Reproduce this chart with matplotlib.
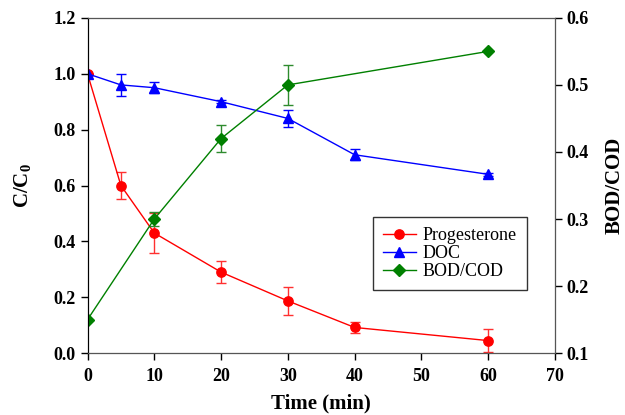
import matplotlib
matplotlib.use("Agg")
import matplotlib.pyplot as plt
from matplotlib.lines import Line2D

plt.rcParams["font.family"] = "Liberation Serif"
plt.rcParams["mathtext.fontset"] = "custom"
plt.rcParams["mathtext.bf"] = "Liberation Serif:bold"
plt.rcParams["mathtext.rm"] = "Liberation Serif"

# data
time_prog = [0, 5, 10, 20, 30, 40, 60]
prog = [1.0, 0.60, 0.43, 0.29, 0.187, 0.092, 0.045]
prog_err = [0.0, 0.05, 0.07, 0.04, 0.049, 0.02, 0.04]

time_doc = [0, 5, 10, 20, 30, 40, 60]
doc = [1.0, 0.96, 0.95, 0.90, 0.84, 0.71, 0.64]
doc_err = [0.0, 0.04, 0.02, 0.005, 0.03, 0.02, 0.006]

time_bod = [0, 10, 20, 30, 60]
bod_cod = [0.15, 0.30, 0.42, 0.50, 0.55]
bod_err = [0.0, 0.01, 0.02, 0.03, 0.0]

fig = plt.figure(figsize=(6.25, 4.15), dpi=100)
ax = fig.add_axes([0.14, 0.149, 0.748, 0.808])
ax2 = ax.twinx()

ax.errorbar(time_prog, prog, yerr=prog_err, color="#ff0000", marker="o",
            markersize=6.7, linewidth=1, capsize=3.6, elinewidth=1,
            ecolor="#ff3030")
ax.errorbar(time_doc, doc, yerr=doc_err, color="#0000ff", marker="^",
            markersize=7, linewidth=1, capsize=3.6, elinewidth=1)
ax2.errorbar(time_bod, bod_cod, yerr=bod_err, color="#008000", marker="D",
             markersize=6, linewidth=1, capsize=3.6, elinewidth=1,
             ecolor="#2e8b2e")

ax.set_xlim(0, 70)
ax.set_ylim(0, 1.2)
ax2.set_ylim(0.1, 0.6)
ax.set_xticks(range(0, 71, 10))
ax.set_yticks([0.0, 0.2, 0.4, 0.6, 0.8, 1.0, 1.2])
ax2.set_yticks([0.1, 0.2, 0.3, 0.4, 0.5, 0.6])
ax.set_yticklabels([f"{v:.1f}" for v in ax.get_yticks()])
ax2.set_yticklabels([f"{v:.1f}" for v in ax2.get_yticks()])

for a in (ax, ax2):
    a.tick_params(direction="out", length=5, width=1, labelsize=13)
    for lab in a.get_xticklabels() + a.get_yticklabels():
        lab.set_fontweight("bold")
ax.tick_params(axis="x", pad=6)

ax.set_xlabel("Time (min)", fontsize=15, fontweight="bold", labelpad=6)
ax.set_ylabel(r"C/C$_\mathbf{0}$", fontsize=15, fontweight="bold", labelpad=14)
ax2.set_ylabel("BOD/COD", fontsize=15, fontweight="bold", labelpad=11)

for side in ("top", "right", "bottom"):
    ax2.spines[side].set_color("#555555")
ax.spines["left"].set_color("black")

handles = [
    Line2D([0], [0], color="#ff0000", marker="o", markersize=6.7, lw=1, label="Progesterone"),
    Line2D([0], [0], color="#0000ff", marker="^", markersize=7, lw=1, label="DOC"),
    Line2D([0], [0], color="#008000", marker="D", markersize=6, lw=1, label="BOD/COD"),
]
leg = ax2.legend(handles=handles, loc="lower left",
                 bbox_to_anchor=(0.611, 0.188), fontsize=13, frameon=True,
                 fancybox=False, edgecolor="#333333", framealpha=1,
                 handlelength=1.8, handletextpad=0.4, borderpad=0.55,
                 labelspacing=0.05, borderaxespad=0)
leg.get_frame().set_linewidth(1)

fig.savefig("out.png", dpi=100)
